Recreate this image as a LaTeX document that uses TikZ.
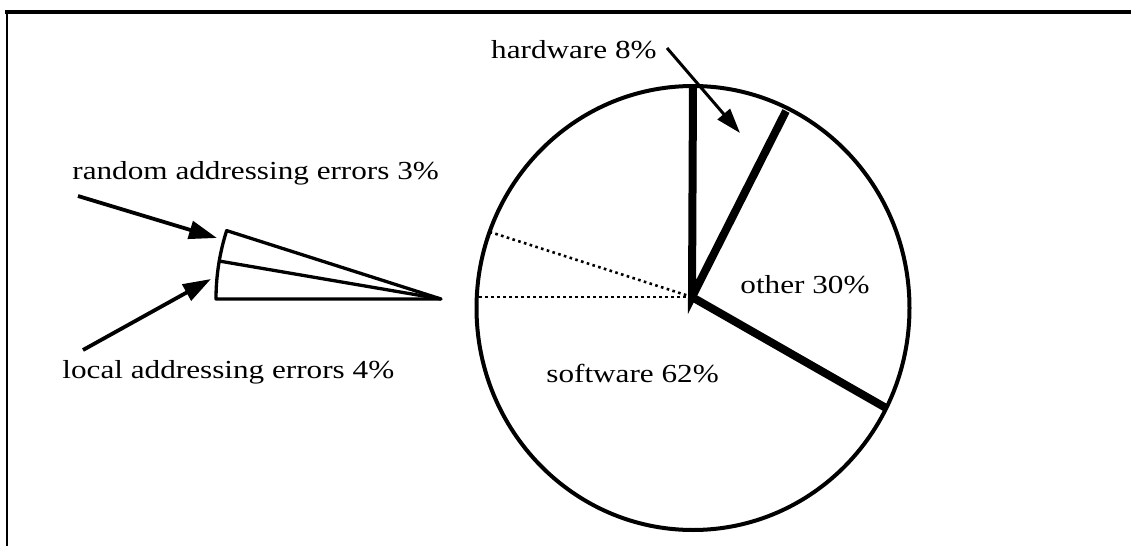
\documentclass[tikz,border=0pt]{standalone}
\usepackage{fontspec}
\setmainfont[FakeStretch=1.2]{Liberation Serif}
\usetikzlibrary{arrows.meta}
\begin{document}
\begin{tikzpicture}[x=0.5pt,y=-0.5pt,
  lbl/.style={inner sep=0pt,anchor=base west,font=\fontsize{13}{15}\selectfont},
  radial/.style={line width=4pt,line cap=butt},
  dotline/.style={line width=1.3pt,dash pattern=on 1.3pt off 1.7pt},
  wedge/.style={line width=1.65pt,line join=round},
  pointer/.style={line width=1.9pt,-{Triangle[length=14pt,width=9pt]}},
]
\useasboundingbox (0,0) rectangle (1131,546);
% frame
\draw[line width=2pt] (5,12) -- (1131,12);
\draw[line width=1pt] (7,12) -- (7,546);
% pie
\coordinate (hub) at (692,297);
\coordinate (ptop) at (693,87);
\coordinate (phw) at (786,111);
\coordinate (poth) at (886,408);
\coordinate (pdh) at (477,297);
\coordinate (pdt) at (490,232);
\draw[line width=2pt] (693,308) ellipse [x radius=216.5, y radius=222];
\draw[dotline] (hub) -- (pdh);
\draw[dotline] (hub) -- (pdt);
\draw[radial] (ptop) -- (hub) -- (phw);
\draw[radial] (hub) -- (poth);
% exploded wedge
\coordinate (apex) at (441,299);
\coordinate (wbot) at (216,299);
\coordinate (wmid) at (219,261);
\draw[wedge] (apex) -- (wbot) arc[start angle=180, end angle=197.7, radius=225] -- cycle;
\draw[wedge] (apex) -- (wmid);
% labels
\node[lbl] (lrand) at (72,179) {random addressing errors 3\%};
\node[lbl] (lloc) at (62,378) {local addressing errors 4\%};
\node[lbl,anchor=base east] (lhw) at (657,58) {hardware 8\%};
\node[lbl] (loth) at (740,293) {other 30\%};
\node[lbl] (lsoft) at (546,382) {software 62\%};
% arrows
\coordinate (arS) at (78,196);
\coordinate (arE) at (217,238);
\coordinate (alS) at (83,350);
\coordinate (alE) at (211,279);
\coordinate (ahS) at (667,48);
\coordinate (ahE) at (740,133);
\draw[pointer] (arS) -- (arE);
\draw[pointer] (alS) -- (alE);
\draw[pointer,line width=1.5pt,-{Triangle[length=12.5pt,width=8pt]}] (ahS) -- (ahE);
\end{tikzpicture}
\end{document}
